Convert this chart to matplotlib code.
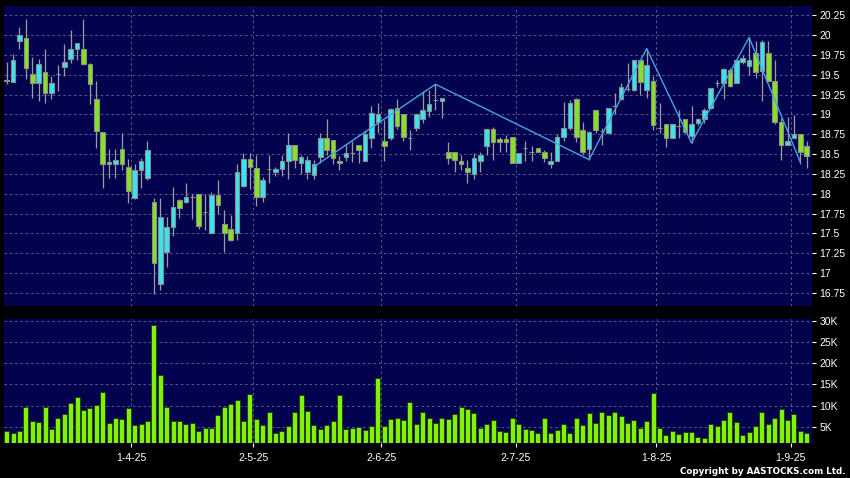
import matplotlib
matplotlib.use("Agg")
import matplotlib.pyplot as plt
import numpy as np

# ---------------- data ----------------
opens = [19.44, 19.41, 19.92, 19.96, 19.51, 19.40, 19.54, 19.27, 19.51, 19.60,
         19.70, 19.82, 19.82, 19.64, 19.20, 18.78, 18.37, 18.38, 18.56, 18.34,
         17.94, 18.30, 18.20, 17.89, 16.86, 17.27, 17.58, 17.92, 17.90, 17.96,
         18.00, 17.77, 17.51, 17.99, 17.62, 17.56, 17.51, 18.10, 18.44, 18.32,
         17.96, 18.31, 18.28, 18.31, 18.41, 18.62, 18.39, 18.27, 18.23, 18.46,
         18.70, 18.68, 18.41, 18.46, 18.51, 18.62, 18.41, 18.70, 18.90, 18.66,
         18.70, 19.08, 19.00, 18.70, 18.83, 18.94, 19.04, 19.18, 19.17, 18.52,
         18.52, 18.41, 18.32, 18.25, 18.41, 18.60, 18.81, 18.69, 18.69, 18.72,
         18.39, 18.58, 18.52, 18.58, 18.52, 18.38, 18.41, 18.72, 18.83, 19.20,
         18.80, 18.56, 19.05, 18.79, 18.76, 19.11, 19.20, 19.32, 19.31, 19.68,
         19.31, 19.42, 18.83, 18.88, 18.70, 18.85, 18.94, 18.73, 18.89, 18.94,
         19.08, 19.40, 19.39, 19.56, 19.40, 19.66, 19.61, 19.78, 19.55, 19.78,
         19.42, 18.90, 18.62, 18.70, 18.75, 18.60]
highs = [19.66, 19.76, 20.10, 20.20, 19.72, 19.70, 19.82, 19.49, 19.62, 19.89,
         20.06, 19.90, 20.20, 19.65, 19.42, 18.78, 18.56, 18.56, 18.76, 18.44,
         18.38, 18.45, 18.66, 17.94, 17.94, 17.71, 18.08, 17.93, 18.13, 18.00,
         18.00, 18.00, 18.02, 18.17, 17.79, 17.73, 18.37, 18.51, 18.51, 18.49,
         18.21, 18.49, 18.34, 18.49, 18.76, 18.62, 18.49, 18.48, 18.42, 18.76,
         18.94, 18.68, 18.47, 18.62, 18.66, 18.62, 18.80, 19.10, 19.15, 18.93,
         19.08, 19.19, 19.00, 18.80, 19.00, 19.30, 19.31, 19.38, 19.21, 18.65,
         18.52, 18.49, 18.43, 18.51, 18.52, 18.81, 18.84, 18.72, 18.74, 18.72,
         18.51, 18.66, 18.60, 18.58, 18.55, 18.53, 18.75, 19.16, 19.18, 19.21,
         18.90, 18.79, 19.05, 18.83, 19.08, 19.27, 19.40, 19.65, 19.68, 19.68,
         19.83, 19.48, 19.14, 18.88, 18.88, 19.05, 18.94, 19.10, 18.95, 19.08,
         19.33, 19.44, 19.58, 19.58, 19.68, 19.75, 19.97, 19.93, 19.94, 19.92,
         19.69, 18.95, 18.97, 18.99, 18.75, 18.66]
lows = [19.38, 19.41, 19.82, 19.45, 19.21, 19.17, 19.14, 19.20, 19.30, 19.48,
        19.65, 19.68, 19.62, 19.13, 18.58, 18.07, 18.20, 18.20, 18.30, 17.88,
        17.93, 18.07, 18.17, 16.74, 16.79, 17.07, 17.47, 17.69, 17.88, 17.68,
        17.56, 17.54, 17.51, 17.75, 17.27, 17.40, 17.41, 18.08, 18.06, 17.85,
        17.89, 18.13, 18.22, 18.22, 18.18, 18.32, 18.25, 18.18, 18.18, 18.39,
        18.49, 18.37, 18.30, 18.41, 18.40, 18.39, 18.41, 18.58, 18.76, 18.41,
        18.68, 18.81, 18.66, 18.55, 18.79, 18.89, 18.97, 19.06, 18.96, 18.37,
        18.27, 18.30, 18.14, 18.18, 18.28, 18.49, 18.43, 18.52, 18.53, 18.39,
        18.39, 18.41, 18.41, 18.52, 18.40, 18.32, 18.41, 18.66, 18.80, 18.65,
        18.50, 18.43, 18.76, 18.62, 18.76, 19.01, 19.18, 19.29, 19.30, 19.25,
        19.21, 18.80, 18.76, 18.59, 18.70, 18.70, 18.76, 18.64, 18.87, 18.89,
        19.07, 19.35, 19.19, 19.35, 19.39, 19.64, 19.50, 19.46, 19.17, 19.42,
        18.88, 18.43, 18.62, 18.70, 18.38, 18.32]
closes = [19.42, 19.68, 20.00, 19.58, 19.40, 19.64, 19.27, 19.40, 19.51, 19.66,
          19.82, 19.90, 19.64, 19.38, 18.79, 18.37, 18.40, 18.42, 18.38, 18.03,
          18.30, 18.41, 18.55, 17.13, 17.70, 17.58, 17.83, 17.82, 17.96, 17.96,
          17.59, 17.77, 17.99, 17.86, 17.51, 17.41, 18.28, 18.44, 18.34, 17.96,
          18.17, 18.31, 18.31, 18.41, 18.62, 18.42, 18.46, 18.42, 18.38, 18.70,
          18.55, 18.45, 18.39, 18.51, 18.51, 18.55, 18.75, 19.02, 19.00, 18.60,
          19.07, 18.86, 18.71, 18.70, 19.00, 19.05, 19.13, 19.18, 19.21, 18.45,
          18.42, 18.37, 18.28, 18.45, 18.49, 18.81, 18.65, 18.65, 18.65, 18.39,
          18.51, 18.58, 18.52, 18.52, 18.45, 18.41, 18.72, 18.83, 19.14, 18.72,
          18.52, 18.78, 18.80, 18.79, 19.08, 19.11, 19.35, 19.32, 19.68, 19.41,
          19.62, 18.87, 18.83, 18.70, 18.88, 18.85, 18.78, 18.88, 18.94, 19.06,
          19.33, 19.40, 19.57, 19.36, 19.68, 19.71, 19.68, 19.54, 19.91, 19.42,
          18.91, 18.61, 18.67, 18.75, 18.52, 18.47]
volumes_k = [3.97, 3.42, 4.05, 9.75, 6.34, 6.19, 9.75, 4.53, 6.98, 7.93,
             10.70, 11.96, 9.03, 9.35, 10.06, 13.23, 5.87, 7.14, 6.90, 9.51,
             5.47, 5.63, 6.34, 29.05, 17.26, 9.75, 6.42, 6.27, 5.71, 5.79,
             4.05, 4.60, 4.68, 7.85, 9.75, 10.30, 11.33, 6.34, 12.67, 6.82,
             5.40, 8.40, 3.58, 4.05, 5.16, 8.40, 12.44, 8.64, 5.47, 4.37,
             5.32, 6.42, 12.52, 4.45, 4.68, 5.00, 4.21, 5.08, 16.55, 5.16,
             6.82, 6.98, 6.66, 10.93, 5.71, 8.36, 7.14, 5.87, 6.98, 6.90,
             8.00, 9.67, 9.19, 8.24, 4.68, 5.55, 6.66, 3.97, 3.66, 7.06,
             5.71, 4.53, 4.21, 3.42, 6.98, 3.42, 4.13, 5.63, 3.58, 6.98,
             5.40, 8.24, 5.87, 8.48, 7.85, 8.56, 7.45, 5.79, 6.66, 4.60,
             6.27, 13.00, 4.68, 3.02, 3.89, 3.26, 3.66, 3.66, 2.47, 2.23,
             5.55, 5.08, 6.50, 8.56, 6.11, 3.02, 3.81, 5.24, 8.56, 5.71,
             7.14, 9.27, 6.58, 7.93, 3.89, 3.42]

zz_idx = [48, 67, 91, 100, 107, 116, 124]
zz_val = [18.34, 19.38, 18.43, 19.83, 18.64, 19.97, 18.40]

month_idx = [20, 39, 59, 80, 102, 123]
month_labels = ["1-4-25", "2-5-25", "2-6-25", "2-7-25", "1-8-25", "1-9-25"]

price_ticks = [16.75, 17.0, 17.25, 17.5, 17.75, 18.0, 18.25, 18.5, 18.75,
               19.0, 19.25, 19.5, 19.75, 20.0, 20.25]
vol_ticks = [5, 10, 15, 20, 25, 30]

# ---------------- style ----------------
NAVY = "#02024e"
GRID = "#5c5c90"
UP = "#36e6f2"
DOWN = "#86e41e"
DOJI = "#a0a0a0"
WICK = "#9c9c9c"
VOL = "#80f20a"
FONT = "Liberation Sans"

W, H = 850, 478
fig = plt.figure(figsize=(W / 100, H / 100), dpi=100, facecolor="black")
left, right = 4, 811.7
ax = fig.add_axes([left / W, 1 - 306 / H, (right - left) / W, 300 / H])
ax2 = fig.add_axes([left / W, 1 - 443.3 / H, (right - left) / W, 124 / H])

o = np.array(opens); h = np.array(highs); l = np.array(lows); c = np.array(closes)
x = np.arange(len(o))
cols = np.where(c > o, UP, np.where(c < o, DOWN, DOJI))

xlim = (-0.42, 125.78)
grid_x = [m - 0.5 for m in month_idx]

for a in (ax, ax2):
    a.set_facecolor(NAVY)
    for s in a.spines.values():
        s.set_visible(False)
    a.set_xlim(*xlim)
    a.set_xticks(grid_x)
    a.grid(True, color=GRID, linestyle=(0, (2.5, 3)), linewidth=0.7)
    a.set_axisbelow(True)
    a.yaxis.tick_right()
    a.tick_params(axis="y", colors="white", labelcolor="white", length=3,
                  width=0.8, pad=2.5, labelsize=7.5)

# price panel
ax.vlines(x, l, h, color=WICK, linewidth=0.9, zorder=2)
ax.bar(x, np.abs(c - o), bottom=np.minimum(o, c), width=0.74, color=cols,
       edgecolor="#8c8c8c", linewidth=0.8, zorder=3)
ax.plot(zz_idx, zz_val, color="#44a4e4", linewidth=1.0, zorder=4)
ax.set_ylim(16.584, 20.367)
ax.set_yticks(price_ticks)
ax.set_yticklabels([f"{v:g}" for v in price_ticks], fontfamily=FONT)
ax.tick_params(axis="x", length=0, labelbottom=False)

# volume panel
ax2.bar(x, volumes_k, width=0.8, color=VOL, edgecolor="#1c3a06",
        linewidth=0.6, zorder=3)
ax2.set_ylim(1.04, 30.47)
ax2.set_yticks(vol_ticks)
ax2.set_yticklabels([f"{v}K" for v in vol_ticks], fontfamily=FONT)
ax2.set_xticklabels(month_labels, fontfamily=FONT)
ax2.tick_params(axis="x", colors="white", labelcolor="white", length=3,
                width=0.8, pad=4, labelsize=7.5)

fig.text(846 / W, 1 - 471.5 / H, "Copyright by AASTOCKS.com Ltd.",
         ha="right", va="center", color="white", fontsize=6.3,
         fontweight="bold", fontfamily="DejaVu Sans")

fig.savefig("out.png", dpi=100, facecolor="black")
